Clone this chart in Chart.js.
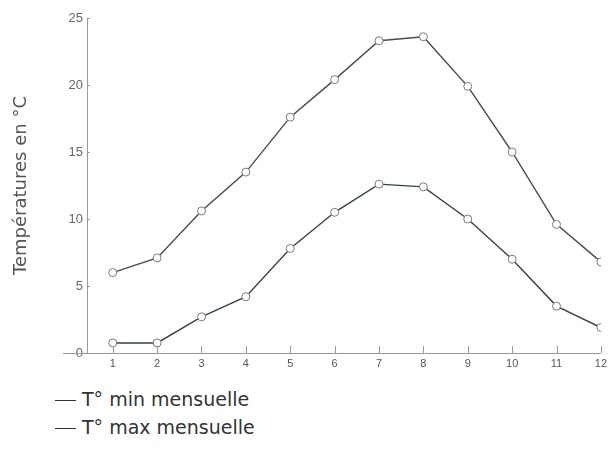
<!DOCTYPE html>
<html lang="fr">
<head>
<meta charset="UTF-8">
<title>Températures mensuelles</title>
<script src="https://cdn.jsdelivr.net/npm/chart.js"></script>
<style>
  body { margin: 0; background: #fff; font-family: "DejaVu Sans", Verdana, sans-serif; }
  #wrap { position: relative; width: 611px; height: 468px; }
  #chart { position: absolute; left: 0; top: 0; }
  .legend { position: absolute; left: 55px; color: #333; font-size: 19px; line-height: 22px; white-space: nowrap; }
  .legend span.sw { display: inline-block; width: 21px; height: 0; border-top: 1.5px solid #333; vertical-align: middle; margin-right: 6px; }
</style>
</head>
<body>
<div id="wrap">
  <canvas id="chart" width="611" height="380"></canvas>
  <div class="legend" style="top:388px"><span class="sw"></span>T° min mensuelle</div>
  <div class="legend" style="top:416px"><span class="sw"></span>T° max mensuelle</div>
</div>
<script>
// months 1..12
const months = [1, 2, 3, 4, 5, 6, 7, 8, 9, 10, 11, 12];
const tMin = [0.75, 0.75, 2.7, 4.2, 7.8, 10.5, 12.6, 12.4, 10.0, 7.0, 3.5, 1.9];
const tMax = [6.0, 7.1, 10.6, 13.5, 17.6, 20.4, 23.3, 23.6, 19.9, 15.0, 9.6, 6.8];
const yTicks = [0, 5, 10, 15, 20, 25];

// tick marks drawn inside the axes, like the original
const innerTicks = {
  id: 'innerTicks',
  afterDraw(chart) {
    const x = chart.scales.x, y = chart.scales.y, ctx = chart.ctx;
    ctx.save();
    ctx.strokeStyle = '#999';
    ctx.lineWidth = 1;
    months.forEach(m => {
      const px = Math.round(x.getPixelForValue(m)) + 0.5;
      ctx.beginPath();
      ctx.moveTo(px, x.top - 7);
      ctx.lineTo(px, x.top);
      ctx.stroke();
    });
    yTicks.forEach(v => {
      const py = Math.round(y.getPixelForValue(v)) + 0.5;
      ctx.beginPath();
      ctx.moveTo(y.right, py);
      ctx.lineTo(y.right + 3, py);
      ctx.stroke();
    });
    // x axis line runs a little past the y axis on the left
    const py0 = Math.round(y.getPixelForValue(0)) + 0.5;
    ctx.beginPath();
    ctx.moveTo(y.right - 24, py0);
    ctx.lineTo(y.right, py0);
    ctx.stroke();
    ctx.restore();
  }
};

new Chart(document.getElementById('chart'), {
  type: 'line',
  data: {
    datasets: [
      {
        label: 'T° min mensuelle',
        data: months.map((m, i) => ({ x: m, y: tMin[i] })),
        borderColor: '#34463b',
        borderWidth: 1.4,
        pointRadius: 4,
        pointBackgroundColor: '#fff',
        pointBorderColor: '#7a7a7a',
        pointBorderWidth: 1
      },
      {
        label: 'T° max mensuelle',
        data: months.map((m, i) => ({ x: m, y: tMax[i] })),
        borderColor: '#4a4a4a',
        borderWidth: 1.4,
        pointRadius: 4,
        pointBackgroundColor: '#fff',
        pointBorderColor: '#7a7a7a',
        pointBorderWidth: 1
      }
    ]
  },
  options: {
    responsive: false,
    animation: false,
    layout: { padding: { top: 18, right: 7, left: 0, bottom: 0 } },
    plugins: { legend: { display: false }, tooltip: { enabled: false } },
    scales: {
      x: {
        type: 'linear',
        min: 0.42,
        max: 12,
        afterBuildTicks: s => { s.ticks = months.map(v => ({ value: v })); },
        afterFit: s => { s.height = 27; },
        grid: { display: false, drawTicks: false },
        border: { color: '#999', width: 1 },
        ticks: { color: '#555', font: { family: 'Liberation Sans', size: 11 }, padding: 4 }
      },
      y: {
        min: 0,
        max: 25,
        afterBuildTicks: s => { s.ticks = yTicks.map(v => ({ value: v })); },
        afterFit: s => { s.width = 87; },
        grid: { display: false, drawTicks: false },
        border: { color: '#999', width: 1 },
        ticks: { color: '#666', font: { family: 'Liberation Sans', size: 13 }, padding: 4 },
        title: {
          display: true,
          text: 'Températures en °C',
          color: '#555',
          font: { family: 'DejaVu Sans', size: 18 },
          padding: { top: 11, bottom: 0 }
        }
      }
    }
  },
  plugins: [innerTicks]
});
</script>
</body>
</html>
